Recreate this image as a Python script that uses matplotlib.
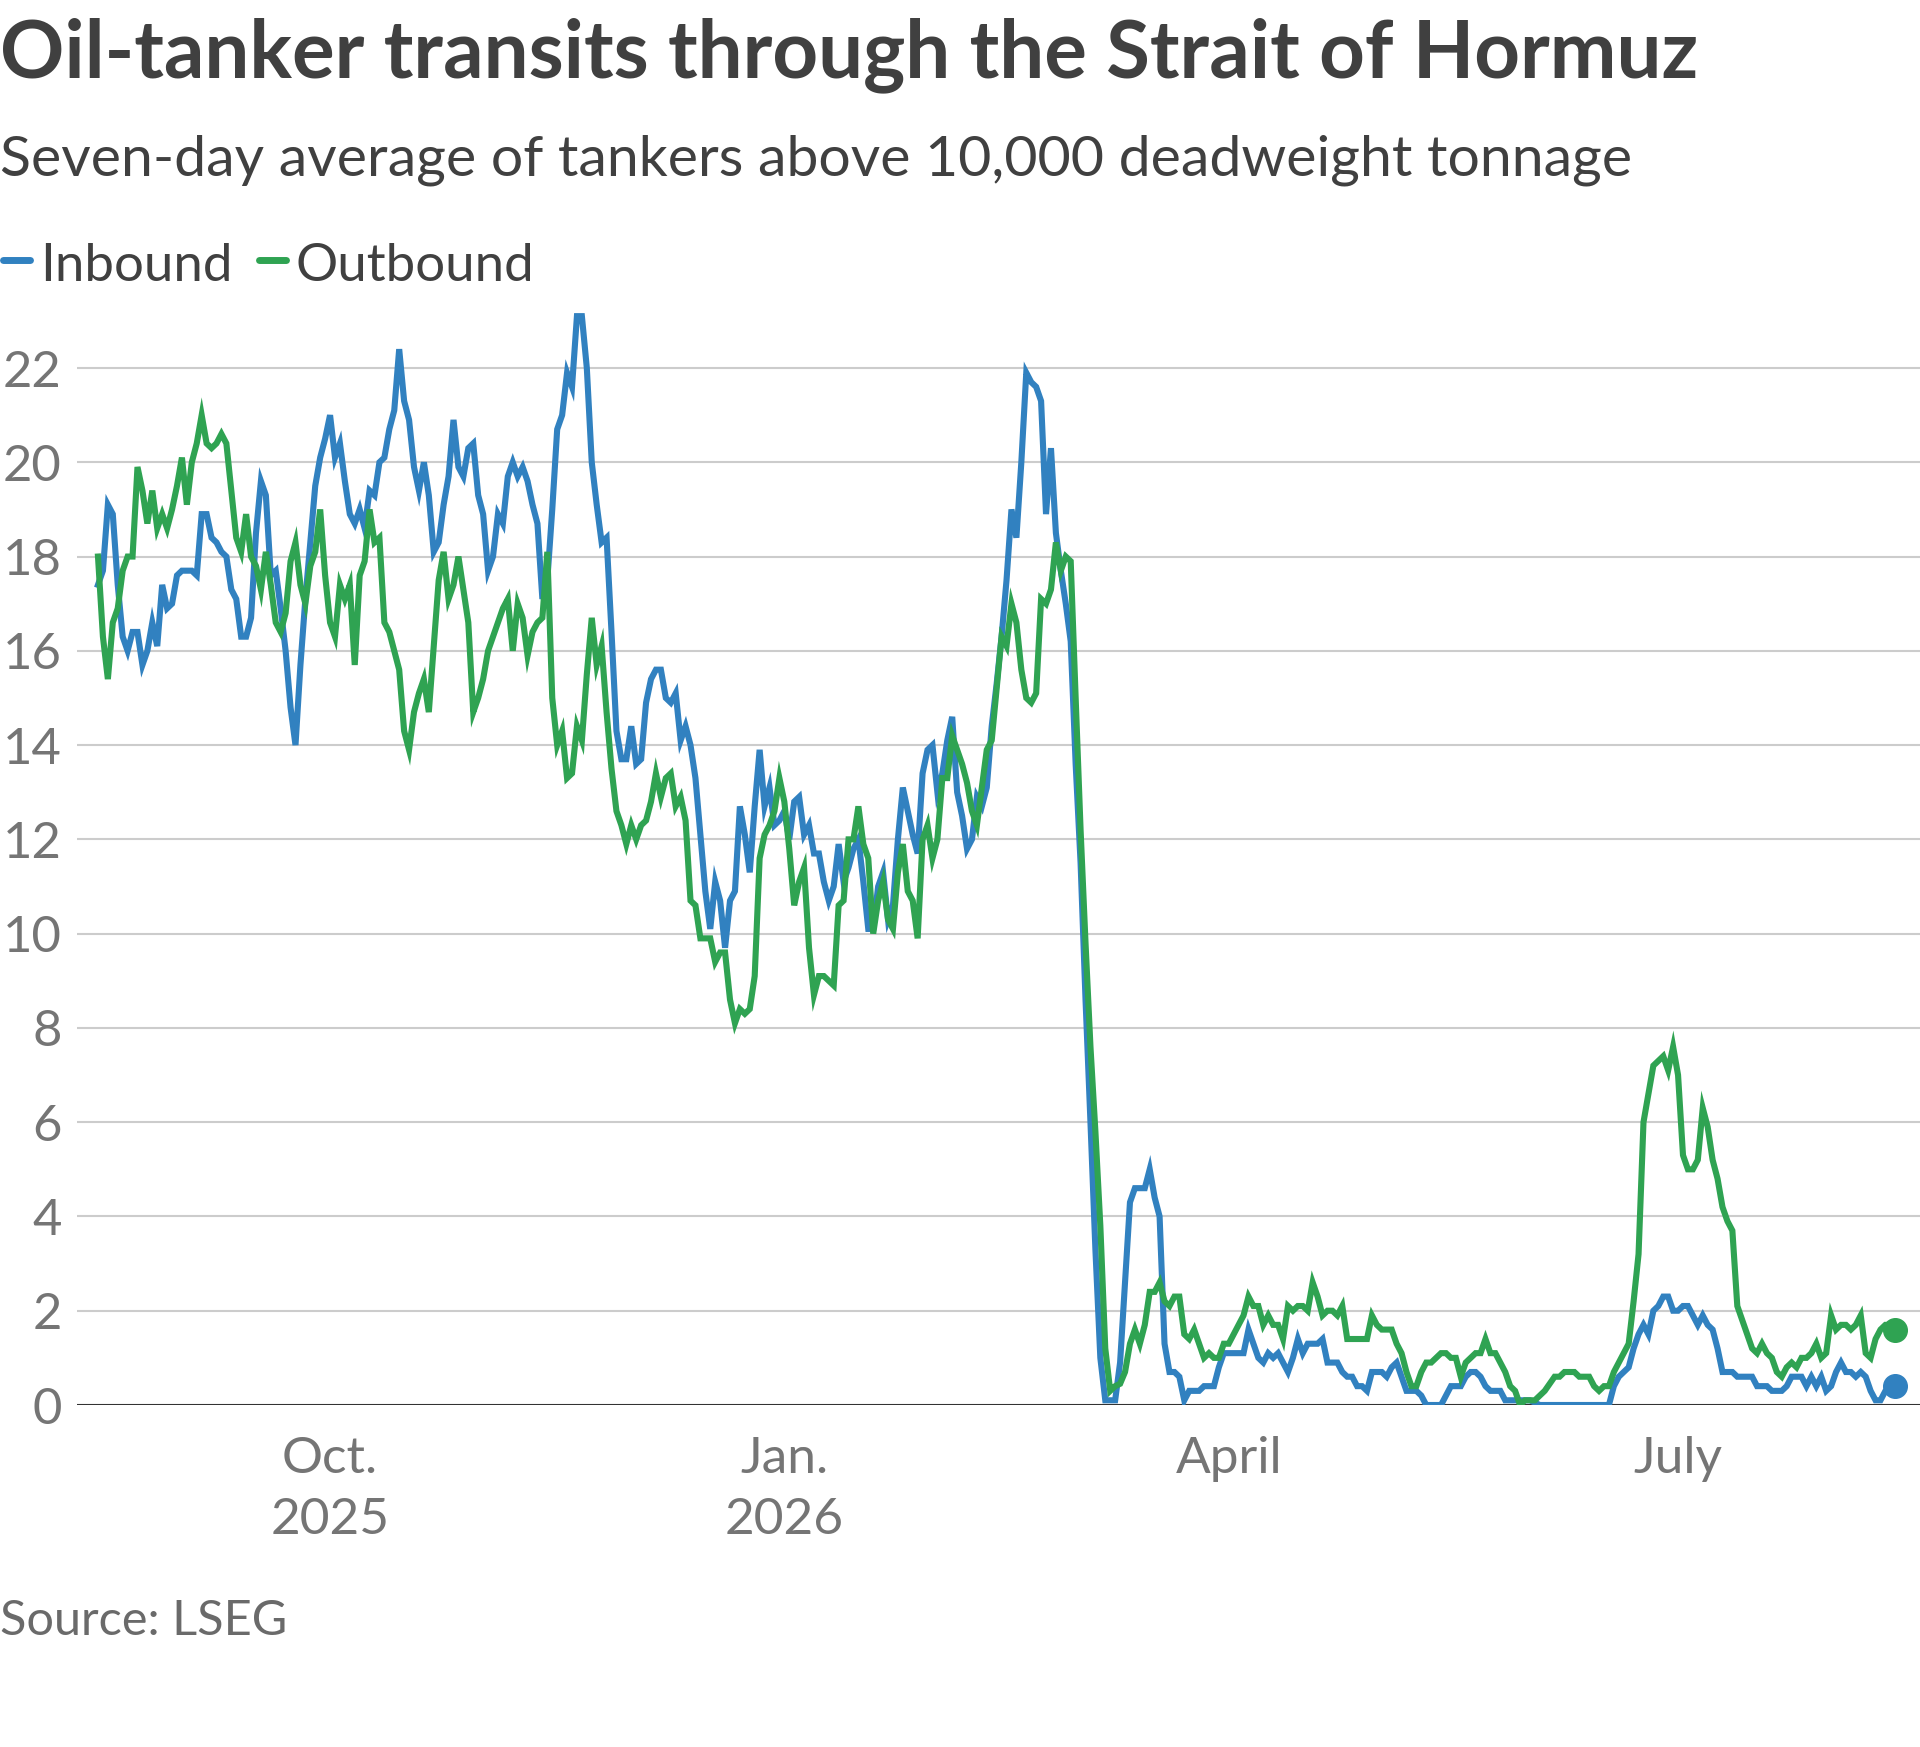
import pandas as pd
import matplotlib
matplotlib.use("Agg")
import matplotlib.pyplot as plt
from matplotlib.lines import Line2D

# seven-day average of tankers > 10,000 dwt, daily from 2025-08-15
start_date = "2025-08-15"

inbound = [
    # Aug 15-31
    17.4, 17.7, 19.1, 18.9, 17.4, 16.3, 16.0, 16.4, 16.4, 15.7, 16.0, 16.6, 16.1, 17.4, 16.9, 17.0, 17.6,
    # Sep
    17.7, 17.7, 17.7, 17.6, 18.9, 18.9, 18.4, 18.3, 18.1, 18.0, 17.3, 17.1, 16.3, 16.3, 16.7,
    18.5, 19.6, 19.3, 17.6, 17.7, 16.9, 16.0, 14.8, 14.0, 15.7, 17.1, 18.3, 19.5, 20.1, 20.5,
    # Oct
    21.0, 20.1, 20.4, 19.6, 18.9, 18.7, 19.0, 18.6, 19.4, 19.3, 20.0, 20.1, 20.7, 21.1, 22.4, 21.3,
    20.9, 19.9, 19.4, 20.0, 19.3, 18.1, 18.3, 19.1, 19.7, 20.9, 19.9, 19.7, 20.3, 20.4, 19.3,
    # Nov
    18.9, 17.7, 18.0, 18.9, 18.7, 19.7, 20.0, 19.7, 19.9, 19.6, 19.1, 18.7, 17.1, 17.5, 19.0,
    20.7, 21.0, 21.9, 21.6, 23.1, 23.1, 22.0, 20.0, 19.1, 18.3, 18.4, 16.4, 14.3, 13.7, 13.7,
    # Dec
    14.4, 13.6, 13.7, 14.9, 15.4, 15.6, 15.6, 15.0, 14.9, 15.1, 14.1, 14.4, 14.0, 13.3, 12.1, 10.9,
    10.1, 11.1, 10.7, 9.7, 10.7, 10.9, 12.7, 12.1, 11.3, 12.7, 13.9, 12.7, 13.1, 12.3, 12.4,
    # Jan
    12.6, 12.0, 12.8, 12.9, 12.1, 12.3, 11.7, 11.7, 11.1, 10.7, 11.0, 11.9, 11.1, 11.4, 11.8, 12.0,
    11.1, 10.1, 10.1, 11.0, 11.3, 10.3, 10.6, 12.0, 13.1, 12.6, 12.1, 11.7, 13.4, 13.9, 14.0,
    # Feb
    13.0, 13.4, 14.1, 14.6, 13.0, 12.5, 11.8, 12.0, 12.9, 12.7, 13.1, 14.4, 15.3, 16.3,
    17.5, 19.0, 18.4, 20.0, 21.9, 21.7, 21.6, 21.3, 18.9, 20.3, 18.5, 17.7, 17.0, 16.2,
    # Mar
    13.6, 11.5, 8.6, 6.0, 3.3, 1.0, 0.1, 0.1, 0.1, 0.9, 2.6, 4.3, 4.6, 4.6, 4.6, 5.0,
    4.4, 4.0, 1.3, 0.7, 0.7, 0.6, 0.1, 0.3, 0.3, 0.3, 0.4, 0.4, 0.4, 0.8, 1.1,
    # Apr
    1.1, 1.1, 1.1, 1.1, 1.6, 1.3, 1.0, 0.9, 1.1, 1.0, 1.1, 0.9, 0.7, 1.0, 1.4,
    1.1, 1.3, 1.3, 1.3, 1.4, 0.9, 0.9, 0.9, 0.7, 0.6, 0.6, 0.4, 0.4, 0.3, 0.7,
    # May
    0.7, 0.7, 0.6, 0.8, 0.9, 0.6, 0.3, 0.3, 0.3, 0.2, 0.0, 0.0, 0.0, 0.0, 0.2, 0.4,
    0.4, 0.4, 0.6, 0.7, 0.7, 0.6, 0.4, 0.3, 0.3, 0.3, 0.1, 0.1, 0.1, 0.1, 0.1,
    # Jun
    0.1, 0.05, 0.0, 0.0, 0.0, 0.0, 0.0, 0.0, 0.0, 0.0, 0.0, 0.0, 0.0, 0.0, 0.0,
    0.0, 0.0, 0.4, 0.6, 0.7, 0.8, 1.2, 1.5, 1.7, 1.5, 2.0, 2.1, 2.3, 2.3, 2.0,
    # Jul
    2.0, 2.1, 2.1, 1.9, 1.7, 1.9, 1.7, 1.6, 1.2, 0.7, 0.7, 0.7, 0.6, 0.6, 0.6, 0.6,
    0.4, 0.4, 0.4, 0.3, 0.3, 0.3, 0.4, 0.6, 0.6, 0.6, 0.4, 0.6, 0.4, 0.6, 0.3,
    # Aug 1-14
    0.4, 0.7, 0.9, 0.7, 0.7, 0.6, 0.7, 0.6, 0.3, 0.1, 0.1, 0.3, 0.4, 0.4,
]

outbound = [
    # Aug 15-31
    18.0, 16.3, 15.4, 16.6, 16.9, 17.7, 18.0, 18.0, 19.9, 19.4, 18.7, 19.4, 18.6, 18.9, 18.6, 19.0, 19.5,
    # Sep
    20.1, 19.1, 20.0, 20.4, 21.0, 20.4, 20.3, 20.4, 20.6, 20.4, 19.4, 18.4, 18.1, 18.9, 18.0,
    17.8, 17.3, 18.1, 17.4, 16.6, 16.4, 16.8, 17.9, 18.3, 17.4, 17.0, 17.8, 18.1, 19.0, 17.6,
    # Oct
    16.6, 16.3, 17.4, 17.1, 17.4, 15.7, 17.6, 17.9, 19.0, 18.3, 18.4, 16.6, 16.4, 16.0, 15.6, 14.3,
    13.9, 14.7, 15.1, 15.4, 14.7, 16.1, 17.5, 18.1, 17.1, 17.4, 18.0, 17.3, 16.6, 14.7, 15.0,
    # Nov
    15.4, 16.0, 16.3, 16.6, 16.9, 17.1, 16.0, 17.0, 16.7, 15.9, 16.4, 16.6, 16.7, 18.1, 15.0,
    14.0, 14.3, 13.3, 13.4, 14.4, 14.1, 15.5, 16.7, 15.7, 16.1, 14.7, 13.5, 12.6, 12.3, 11.9,
    # Dec
    12.3, 12.0, 12.3, 12.4, 12.8, 13.4, 12.9, 13.3, 13.4, 12.7, 12.9, 12.4, 10.7, 10.6, 9.9, 9.9,
    9.9, 9.4, 9.6, 9.6, 8.6, 8.1, 8.4, 8.3, 8.4, 9.1, 11.6, 12.1, 12.3, 12.6, 13.3,
    # Jan
    12.8, 11.8, 10.6, 11.1, 11.4, 9.7, 8.7, 9.1, 9.1, 9.0, 8.9, 10.6, 10.7, 12.0, 12.0, 12.7,
    11.9, 11.6, 10.0, 10.7, 11.1, 10.3, 10.1, 11.3, 11.9, 10.9, 10.7, 9.9, 12.0, 12.3, 11.6,
    # Feb
    12.0, 13.3, 13.3, 14.2, 13.9, 13.6, 13.2, 12.6, 12.3, 13.1, 13.9, 14.1, 15.2, 16.3,
    16.1, 17.0, 16.6, 15.6, 15.0, 14.9, 15.1, 17.1, 17.0, 17.3, 18.3, 17.7, 18.0, 17.9,
    # Mar
    15.0, 12.2, 9.8, 7.6, 5.8, 3.8, 1.2, 0.3, 0.4, 0.45, 0.7, 1.3, 1.6, 1.3, 1.7, 2.4,
    2.4, 2.6, 2.2, 2.1, 2.3, 2.3, 1.5, 1.4, 1.6, 1.3, 1.0, 1.1, 1.0, 1.0, 1.3,
    # Apr
    1.3, 1.5, 1.7, 1.9, 2.3, 2.1, 2.1, 1.7, 1.9, 1.7, 1.7, 1.4, 2.1, 2.0, 2.1,
    2.1, 2.0, 2.6, 2.3, 1.9, 2.0, 2.0, 1.9, 2.1, 1.4, 1.4, 1.4, 1.4, 1.4, 1.9,
    # May
    1.7, 1.6, 1.6, 1.6, 1.3, 1.1, 0.7, 0.4, 0.4, 0.7, 0.9, 0.9, 1.0, 1.1, 1.1, 1.0,
    1.0, 0.6, 0.9, 1.0, 1.1, 1.1, 1.4, 1.1, 1.1, 0.9, 0.7, 0.4, 0.3, 0.0, 0.1,
    # Jun
    0.1, 0.1, 0.2, 0.3, 0.45, 0.6, 0.6, 0.7, 0.7, 0.7, 0.6, 0.6, 0.6, 0.4, 0.3,
    0.4, 0.4, 0.7, 0.9, 1.1, 1.3, 2.2, 3.2, 6.0, 6.6, 7.2, 7.3, 7.4, 7.1, 7.6,
    # Jul
    7.0, 5.3, 5.0, 5.0, 5.2, 6.3, 5.9, 5.2, 4.8, 4.2, 3.9, 3.7, 2.1, 1.8, 1.5, 1.2,
    1.1, 1.3, 1.1, 1.0, 0.7, 0.6, 0.8, 0.9, 0.8, 1.0, 1.0, 1.1, 1.3, 1.0, 1.1,
    # Aug 1-14
    1.9, 1.6, 1.7, 1.7, 1.6, 1.7, 1.9, 1.1, 1.0, 1.4, 1.6, 1.7, 1.7, 1.6,
]

tick_dates = ["2025-10-01", "2026-01-01", "2026-04-01", "2026-07-01"]
tick_labels = ["Oct.\n2025", "Jan.\n2026", "April", "July"]
y_ticks = list(range(0, 23, 2))

BLUE = "#3181c0"
GREEN = "#2fa352"
DARK = "#404040"
GREY = "#757575"
FONT = "Lato"
LW = 4.4

W, H = 1920, 1747
fig = plt.figure(figsize=(W / 100, H / 100), dpi=100)
plt.rcParams["font.family"] = FONT


def fx(px):
    return px / W


def fy(px):
    return 1 - px / H


dates = pd.date_range(start_date, periods=len(inbound), freq="D")
dates_out = pd.date_range(start_date, periods=len(outbound), freq="D")

# axes: left edge at 77px, zero line at 1405px
ax = fig.add_axes([fx(77), fy(1405), 1 - fx(77), (1405 - 297.3) / H])
ax.plot(dates, inbound, color=BLUE, lw=LW, solid_joinstyle="miter", zorder=3)
ax.plot(dates_out, outbound, color=GREEN, lw=LW, solid_joinstyle="miter", zorder=4)
ax.plot(dates[-1], inbound[-1], "o", color=BLUE, ms=17, zorder=5)
ax.plot(dates_out[-1], outbound[-1], "o", color=GREEN, ms=17, zorder=5)

t0 = pd.Timestamp(start_date)
ax.set_xlim(t0 - pd.Timedelta(days=4.25), t0 + pd.Timedelta(days=369))
ax.set_ylim(0, 23.5)
ax.set_yticks(y_ticks)
ax.set_xticks(pd.to_datetime(tick_dates))
ax.set_xticklabels(tick_labels)
ax.grid(axis="y", color="#cccccc", lw=1.5, zorder=0)
ax.axhline(0, color="#333333", lw=2.2, zorder=2)
for s in ax.spines.values():
    s.set_visible(False)
ax.tick_params(axis="y", length=0, pad=11, labelsize=36.5, labelcolor=GREY)
ax.tick_params(axis="x", length=0, pad=22, labelsize=37, labelcolor=GREY)
for lab in ax.get_xticklabels():
    lab.set_linespacing(1.42)

title = fig.text(0, fy(77), "Oil-tanker transits through the Strait of Hormuz",
                 fontsize=52, fontweight="bold", color=DARK, va="baseline")
sub = fig.text(0, fy(175), "Seven-day average of tankers above 10,000 deadweight tonnage",
               fontsize=38, color=DARK, va="baseline")

# legend
fig.add_artist(Line2D([fx(3), fx(30)], [fy(260), fy(260)], color=BLUE, lw=5,
                      solid_capstyle="round"))
fig.add_artist(Line2D([fx(259), fx(286)], [fy(260), fy(260)], color=GREEN, lw=5,
                      solid_capstyle="round"))
leg1 = fig.text(fx(40), fy(281), "Inbound", fontsize=38, color=DARK, va="baseline")
leg2 = fig.text(fx(295), fy(281), "Outbound", fontsize=38, color=DARK, va="baseline")

src = fig.text(0, fy(1635), "Source: LSEG", fontsize=35, color="#6a6a6a", va="baseline")

# scale headline texts to the widths in the original
renderer = fig.canvas.get_renderer()
for t, target in [(title, 1697), (sub, 1632)]:
    w = t.get_window_extent(renderer).width
    t.set_fontsize(t.get_fontsize() * target / w)

fig.savefig("out.png", dpi=100)
